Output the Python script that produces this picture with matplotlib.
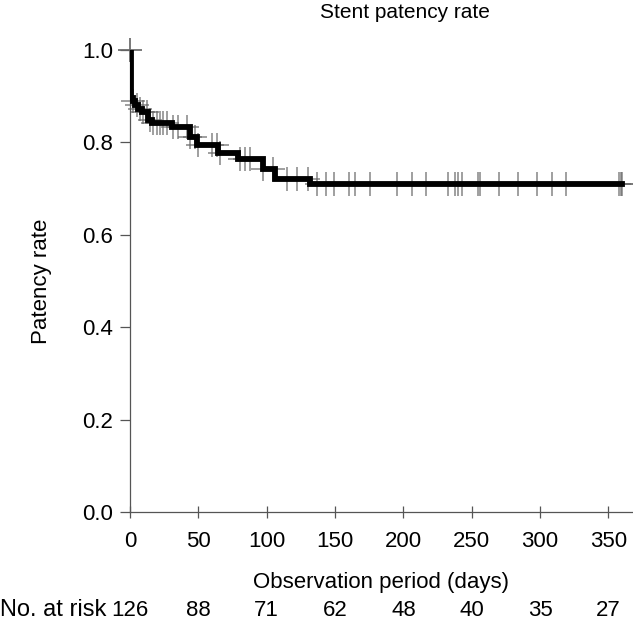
import matplotlib
matplotlib.use("Agg")
import matplotlib.pyplot as plt
import matplotlib.transforms as mtransforms
import numpy as np

plt.rcParams['font.family'] = ['Liberation Sans', 'DejaVu Sans']

# Kaplan-Meier step curve (days, survival after the drop)
step_days = [0, 0.5, 2, 4, 6, 9, 13, 16, 31, 44, 49, 64, 79, 97, 106, 132, 360]
step_rate = [1.0, 0.897, 0.889, 0.881, 0.873, 0.865, 0.849, 0.841, 0.833,
             0.812, 0.795, 0.776, 0.763, 0.742, 0.720, 0.709, 0.709]

# censored observations (days)
censor_days = [0, 0.3, 2, 5, 7, 9.5, 12.4, 14.6, 17, 19.8, 22, 24, 27, 31.5, 35,
               41.7, 44, 47.6, 49.8, 60, 63.7, 66, 80.5, 84, 88, 97, 104.7, 115,
               122, 130, 137, 143.5, 149.3, 160.3, 164.7, 175.7, 195.5, 206.4,
               216.7, 232.8, 237.9, 240.1, 243, 254.8, 256.2, 270, 284, 298, 309,
               319, 358, 359, 360]

risk_days = [0, 50, 100, 150, 200, 250, 300, 350]
risk_counts = [126, 88, 71, 62, 48, 40, 35, 27]


def km_value(t):
    idx = np.searchsorted(step_days, t, side='right') - 1
    return step_rate[max(idx, 0)]


fs = 16
fig = plt.figure(figsize=(6.33, 6.24), dpi=100)
ax = fig.add_axes([0.2054, 0.1795, 0.7926, 0.7405])

ax.step(step_days, step_rate, where='post', color='black', lw=4.2,
        solid_joinstyle='miter', zorder=3)
censor_y = [1.0 if d == 0 else km_value(d) for d in censor_days]
ax.plot(censor_days, censor_y, linestyle='none', marker='+', ms=17, mew=1.1,
        color='#666666', alpha=0.8, zorder=2, clip_on=False)

ax.set_xlim(0, 367)
ax.set_ylim(0, 1.0)
ax.set_xticks(risk_days)
ax.set_yticks(np.arange(0, 1.01, 0.2))
ax.set_yticklabels([f'{v:.1f}' for v in np.arange(0, 1.01, 0.2)])

for s in ['top', 'right']:
    ax.spines[s].set_visible(False)
for s in ['left', 'bottom']:
    ax.spines[s].set_color('#555555')
    ax.spines[s].set_linewidth(0.9)
ax.tick_params(axis='both', colors='#555555', labelcolor='black', labelsize=fs,
               length=7, width=0.9, direction='out')
ax.tick_params(axis='y', pad=5)
ax.tick_params(axis='x', direction='inout', length=8, pad=10)

ax.set_xlabel('Observation period (days)', fontsize=fs, labelpad=14)
ax.set_ylabel('Patency rate', fontsize=fs, labelpad=22)

fig.text(405 / 633, 1 - 12 / 624, 'Stent patency rate', ha='center', va='center',
         fontsize=15)

trans = mtransforms.blended_transform_factory(ax.transData, fig.transFigure)
fig.text(0, 1 - 610 / 624, 'No. at risk', ha='left', va='center', fontsize=17)
for d, n in zip(risk_days, risk_counts):
    ax.text(d, 1 - 610 / 624, str(n), transform=trans, ha='center', va='center',
            fontsize=fs, clip_on=False)

fig.savefig('out.png', dpi=100)
